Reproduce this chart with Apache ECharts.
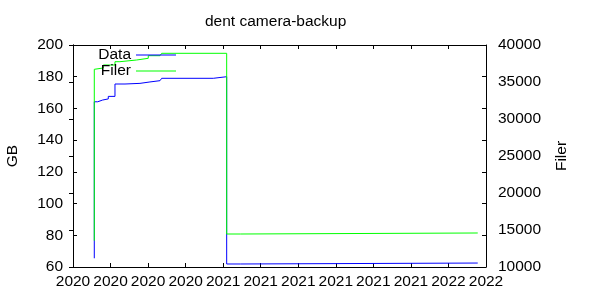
<!DOCTYPE html>
<html>
<head>
<meta charset="utf-8">
<script src="https://cdn.jsdelivr.net/npm/echarts@6/dist/echarts.min.js"></script>
<style>html,body{margin:0;padding:0;background:#fff}#c{width:600px;height:300px}</style>
</head>
<body>
<div id="c"></div>
<script>
// x positions are in tick units (tick index 0..11 along the time axis)
const xTickLabels = ['2020','2020','2020','2020','2021','2021','2021','2021','2021','2021','2022','2022'];
const dataT  = [0.567, 0.567, 0.658, 0.79, 0.94, 1.118, 1.385, 1.784, 2.05, 2.317, 2.362, 3.736, 4.093, 4.466, 10.78];
const dataGB = [65.5, 164.2, 165.3, 166.0, 167.6, 175.4, 175.8, 176.7, 177.5, 178.1, 179.0, 180.0, 61.9, 62.5, 62.5];
const filerT     = [0.567, 0.567, 0.613, 0.807, 1.118, 1.25, 1.696, 2.005, 2.317, 2.362, 4.093, 4.466, 10.78];
const filerCount = [13554, 36716, 36892, 37297, 37743, 37973, 38203, 38554, 38743, 38878, 14459, 14595, 14595];

const FONT = 'Liberation Sans';
const FS = 15.5;
const chart = echarts.init(document.getElementById('c'), null, {renderer: 'canvas'});
const pair = (xs, ys) => xs.map((x, i) => [x, ys[i]]);
const tickStyle = {show: true, inside: true, length: 4, lineStyle: {color: '#000', width: 1}};
const lineStyle = {show: true, lineStyle: {color: '#000', width: 1}};

chart.setOption({
  animation: false,
  backgroundColor: '#fff',
  title: {
    text: 'dent camera-backup', left: 205, top: 14, padding: 0,
    textStyle: {fontFamily: FONT, fontSize: FS, fontWeight: 'normal', color: '#000'}
  },
  legend: [
    {data: ['Data'], right: 424, top: 47, padding: 0, align: 'right', icon: 'rect', itemWidth: 40, itemHeight: 1, itemGap: 8,
     textStyle: {fontFamily: FONT, fontSize: FS, color: '#000'}},
    {data: ['Filer'], right: 424, top: 63, padding: 0, align: 'right', icon: 'rect', itemWidth: 40, itemHeight: 1, itemGap: 8,
     textStyle: {fontFamily: FONT, fontSize: FS, color: '#000'}}
  ],
  grid: {left: 73, right: 114, top: 45, bottom: 33, containLabel: false, outerBoundsMode: 'none'},
  xAxis: [
    {type: 'value', min: 0, max: 11, interval: 1, position: 'bottom',
     axisLine: lineStyle, axisTick: tickStyle, splitLine: {show: false},
     axisLabel: {margin: 7, fontFamily: FONT, fontSize: FS, color: '#000', hideOverlap: false, showMinLabel: true, showMaxLabel: true,
                 formatter: v => xTickLabels[Math.round(v)] || ''}},
    {type: 'value', min: 0, max: 11, interval: 1, position: 'top',
     axisLine: lineStyle, axisTick: tickStyle, splitLine: {show: false}, axisLabel: {show: false}}
  ],
  yAxis: [
    {type: 'value', min: 60, max: 200, interval: 20, position: 'left',
     name: 'GB', nameLocation: 'middle', nameGap: 52, nameRotate: 90,
     nameTextStyle: {fontFamily: FONT, fontSize: FS, color: '#000'},
     axisLine: lineStyle, axisTick: tickStyle, splitLine: {show: false},
     axisLabel: {margin: 10, fontFamily: FONT, fontSize: FS, color: '#000'}},
    {type: 'value', min: 10000, max: 40000, interval: 5000, position: 'right',
     name: 'Filer', nameLocation: 'middle', nameGap: 68, nameRotate: 90,
     nameTextStyle: {fontFamily: FONT, fontSize: FS, color: '#000', verticalAlign: 'top'},
     axisLine: lineStyle, axisTick: tickStyle, splitLine: {show: false},
     axisLabel: {margin: 12, fontFamily: FONT, fontSize: FS, color: '#000', formatter: v => String(v)}},
    {type: 'value', min: 60, max: 200, interval: 20, position: 'right',
     axisLine: lineStyle, axisTick: tickStyle, splitLine: {show: false}, axisLabel: {show: false}}
  ],
  series: [
    {name: 'Data', type: 'line', step: 'end', xAxisIndex: 0, yAxisIndex: 0, symbol: 'none',
     color: '#0000ff', lineStyle: {color: '#0000ff', width: 1}, data: pair(dataT, dataGB)},
    {name: 'Filer', type: 'line', step: 'end', xAxisIndex: 0, yAxisIndex: 1, symbol: 'none',
     color: '#00ff00', lineStyle: {color: '#00ff00', width: 1}, data: pair(filerT, filerCount)}
  ]
});
</script>
</body>
</html>
